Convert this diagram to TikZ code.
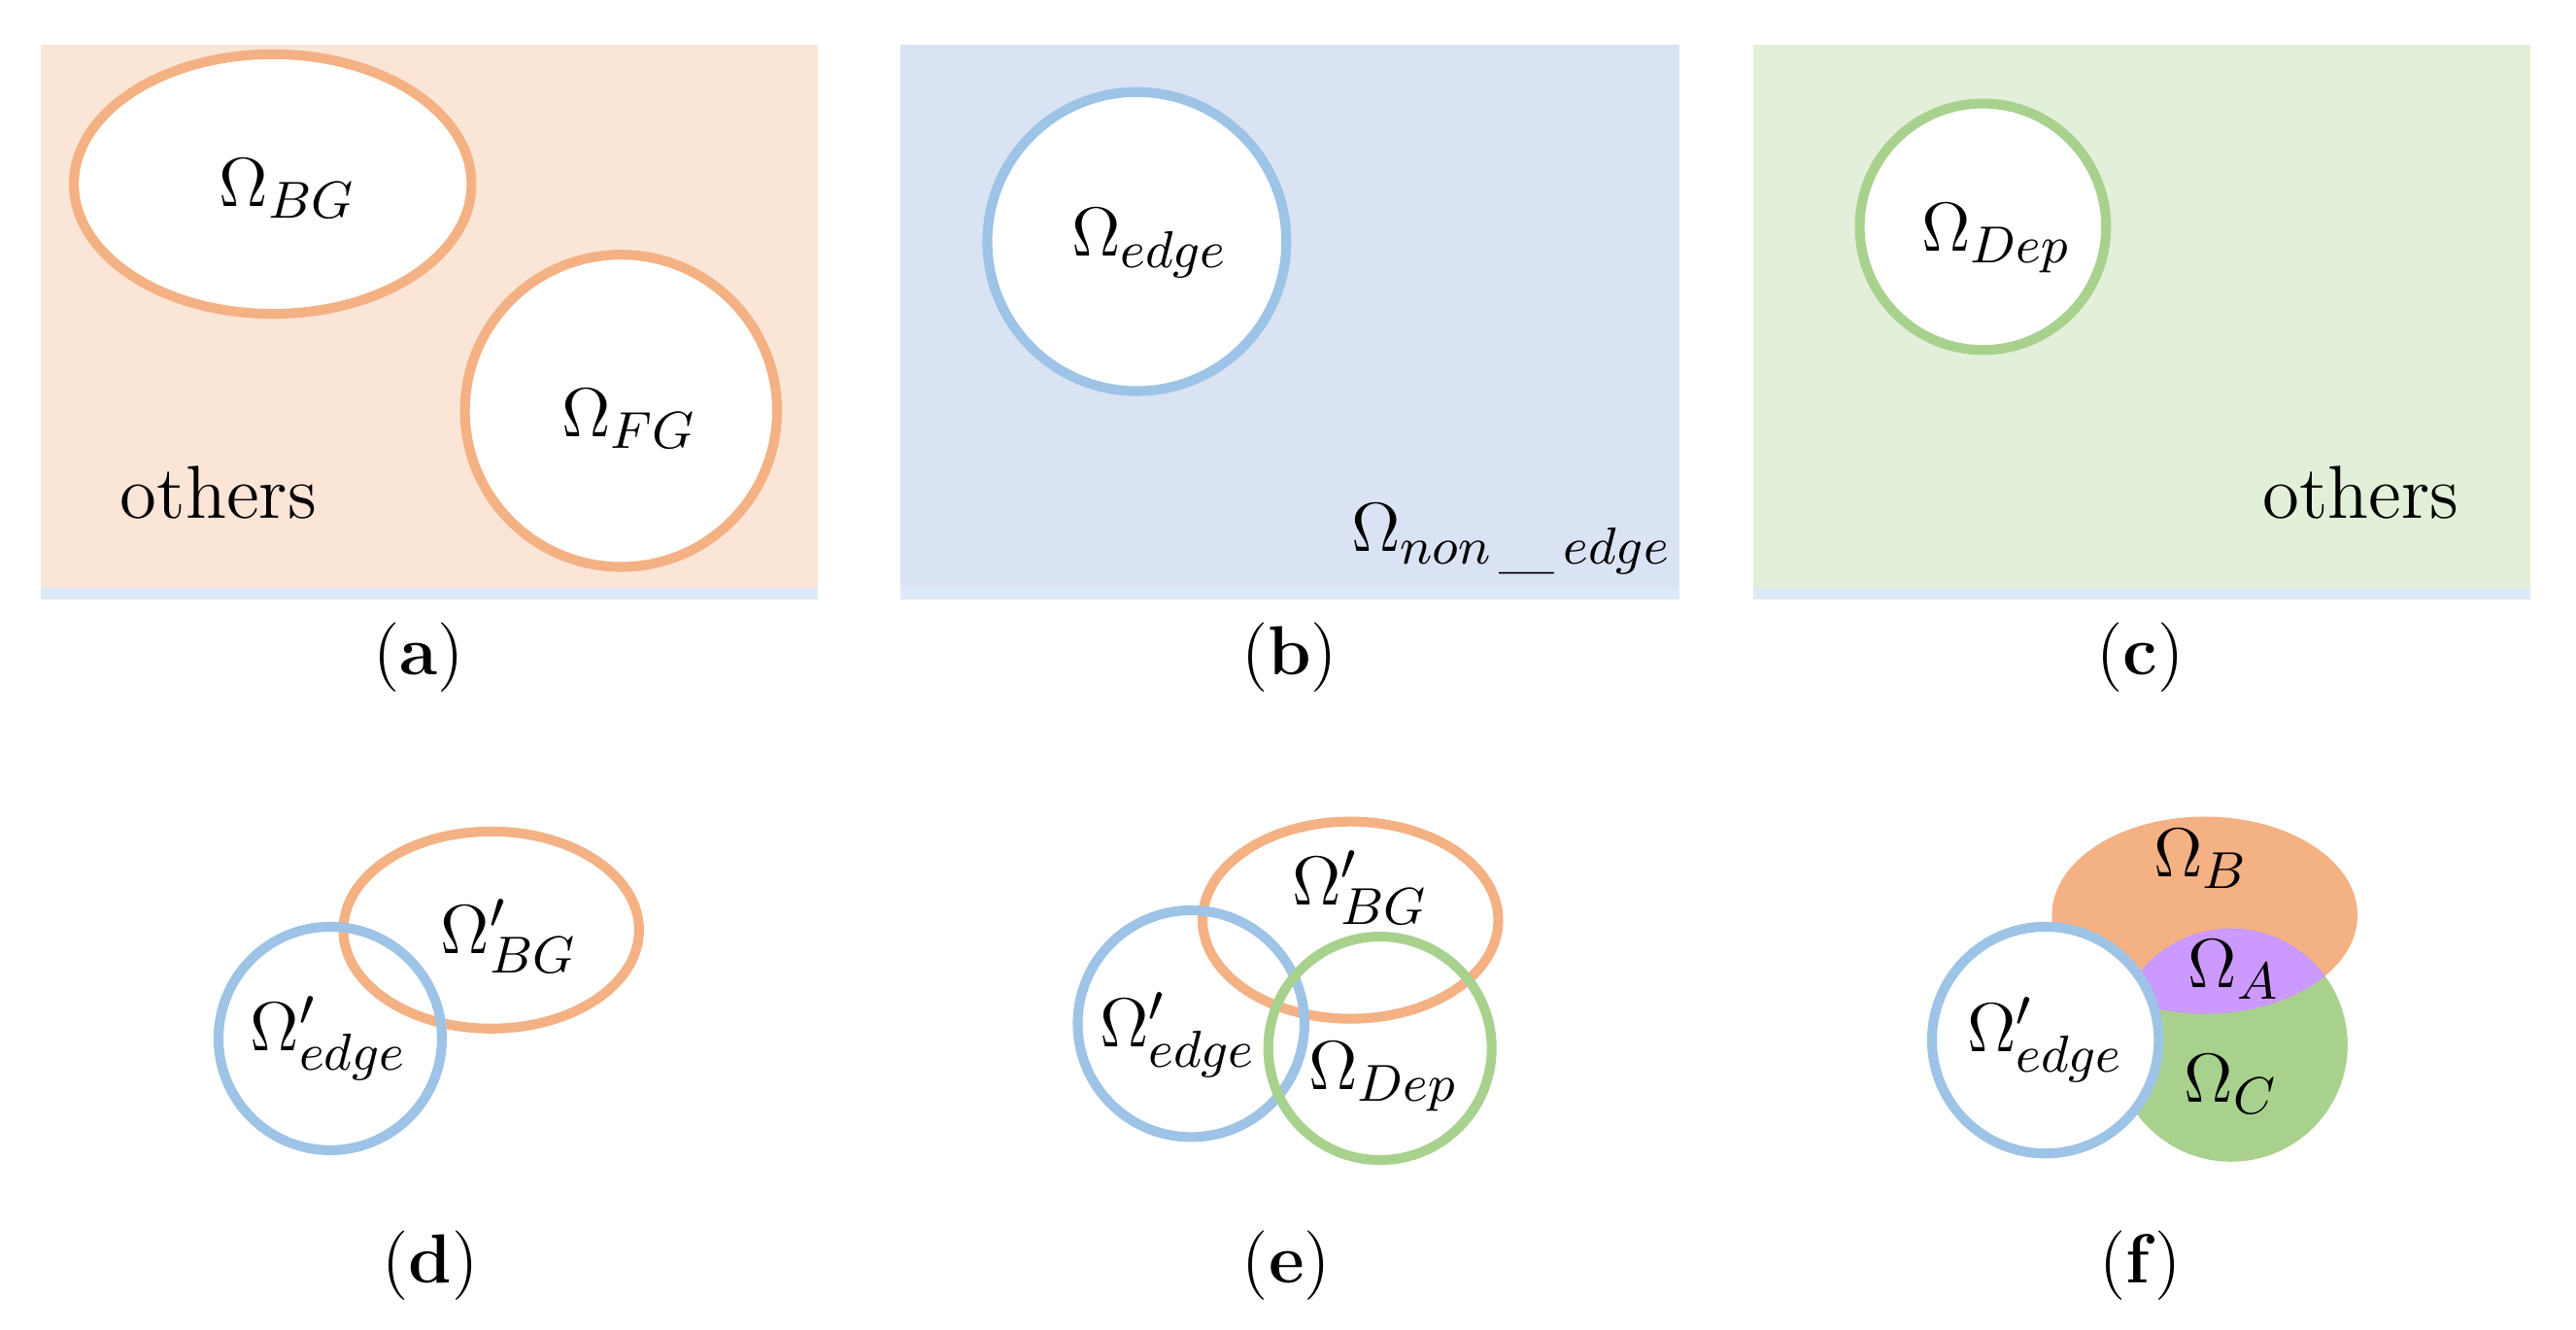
\documentclass[tikz,border=0pt]{standalone}
\usetikzlibrary{shadows}
\begin{document}
\definecolor{pk}{HTML}{FBE5D6}\definecolor{bl}{HTML}{DAE3F3}\definecolor{gr}{HTML}{E2F0D9}
\definecolor{OR}{HTML}{F4B183}\definecolor{BL}{HTML}{9DC3E6}\definecolor{GR}{HTML}{A9D18E}\definecolor{PU}{HTML}{CC99FF}
\begin{tikzpicture}[x=0.01cm,y=-0.01cm,
 panel/.style={draw=none,drop shadow={shadow xshift=0pt,shadow yshift=-2pt,fill=BL!60,opacity=.6}},
 ring/.style={line width=1.7pt,fill=white},
 lab/.style={font=\fontsize{13}{15}\selectfont},
 captxt/.style={font=\fontsize{12}{14}\selectfont}]
\useasboundingbox (0,0) rectangle (1568,809);
% (a)
\fill[pk,panel] (25,27) rectangle (498,358);
\draw[OR,ring] (166,112) ellipse [x radius=121,y radius=79];
\draw[OR,ring] (378,250) circle [radius=95];
\node[lab] (bg) at (175,115) {$\Omega_{BG}$};
\node[lab] (fg) at (383,255) {$\Omega_{FG}$};
\node[lab] (oa) at (133,300) {others};
\node[captxt] (ca) at (255,400) {(\textbf{a})};
% (b)
\fill[bl,panel] (548,27) rectangle (1022,358);
\draw[BL,ring] (692,147) circle [radius=91];
\node[lab] (ed) at (700,148) {$\Omega_{edge}$};
\node[lab] (ne) at (920,328) {$\Omega_{non\,\_\,edge}$};
\node[captxt] (cb) at (785,400) {(\textbf{b})};
% (c)
\fill[gr,panel] (1067,27) rectangle (1540,358);
\draw[GR,ring] (1207,138) circle [radius=75];
\node[lab] (dp) at (1215,145) {$\Omega_{Dep}$};
\node[lab] (oc) at (1437,300) {others};
\node[captxt] (cc) at (1303,400) {(\textbf{c})};
% (d)
\draw[line width=1.7pt,OR] (299,566) ellipse [x radius=90,y radius=60];
\draw[line width=1.7pt,BL] (201,632) circle [radius=68];
\node[lab] (d1) at (310,570) {$\Omega'_{BG}$};
\node[lab] (d2) at (200,632) {$\Omega'_{edge}$};
\node[captxt] (cd) at (262,770) {(\textbf{d})};
% (e)
\draw[line width=1.7pt,OR] (822,560) ellipse [x radius=90,y radius=60];
\draw[line width=1.7pt,BL] (725,623) circle [radius=69];
\draw[line width=1.7pt,GR] (840,638) circle [radius=68];
\node[lab] (e1) at (828,540) {$\Omega'_{BG}$};
\node[lab] (e2) at (717,630) {$\Omega'_{edge}$};
\node[lab] (e3) at (842,655) {$\Omega_{Dep}$};
\node[captxt] (ce) at (783,770) {(\textbf{e})};
% (f)
\fill[OR] (1342,557) ellipse [x radius=93,y radius=60];
\fill[GR] (1358,636) circle [radius=71];
\begin{scope}
\clip (1342,557) ellipse [x radius=93,y radius=60];
\fill[PU] (1358,636) circle [radius=71];
\end{scope}
\draw[BL,ring] (1245,633) circle [radius=69];
\node[lab] (fB) at (1340,523) {$\Omega_{B}$};
\node[lab] (fA) at (1360,590) {$\Omega_{A}$};
\node[lab] (fC) at (1358,660) {$\Omega_{C}$};
\node[lab] (fE) at (1245,633) {$\Omega'_{edge}$};
\node[captxt] (cf) at (1303,770) {(\textbf{f})};
\end{tikzpicture}
\end{document}
